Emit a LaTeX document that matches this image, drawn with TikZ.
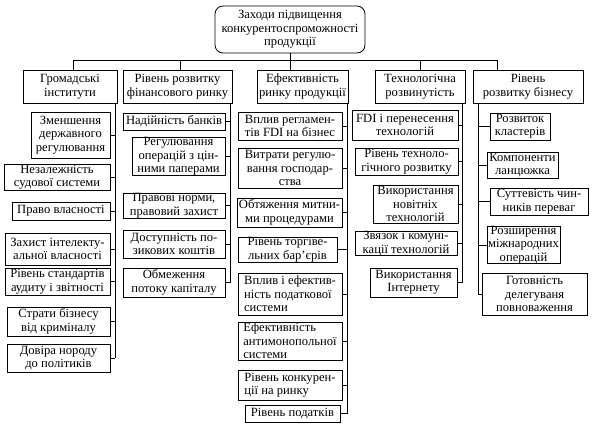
\documentclass[tikz,border=0pt]{standalone}
\usepackage{fontspec}
\setmainfont{Liberation Serif}
\begin{document}
\begin{tikzpicture}[x=1pt,y=-1pt,
  box/.style={draw=black,line width=0.8pt,inner sep=0pt,align=center,font=\fontsize{12.6}{13.4}\selectfont},
  conn/.style={draw=black,line width=0.8pt}]
\useasboundingbox (0,0) rectangle (594,431);
\newcommand\bx[7][]{\node[box,#1,minimum width={(#5-#3)*1pt},minimum height={(#6-#4)*1pt}] (#2) at ({(#3+#5)/2},{(#4+#6)/2}) {#7};}
% top
\bx[rounded corners=8pt]{top}{215}{6}{365}{53}{Заходи підвищення\\конкурентоспроможності\\продукції}
% categories
\bx{c1}{23}{70}{117}{103}{Громадські\\інститути}
\bx{c2}{123}{70}{232}{103}{Рівень розвитку\\фінансового ринку}
\bx{c3}{257}{70}{348}{103}{Ефективність\\ринку продукції}
\bx{c4}{375}{70}{465}{103}{Технологічна\\розвинутість}
\bx{c5}{473}{70}{583}{103}{Рівень\\розвитку бізнесу}
% column 1
\bx{a1}{31}{112}{110}{158}{Зменшення\\державного\\регулювання}
\bx{a2}{4}{164}{110}{190}{Незалежність\\судової системи}
\bx{a3}{12}{202}{110}{220}{Право власності}
\bx{a4}{5}{233}{110}{265}{Захист інтелекту-\\альної власності}
\bx{a5}{5}{268}{110}{295}{Рівень стандартів\\аудиту і звітності}
\bx{a6}{7}{307}{110}{336}{Страти бізнесу\\від криміналу}
\bx{a7}{7}{344}{110}{372}{Довіра нороду\\до політиків}
% column 2
\bx{b1}{123}{113}{225}{130}{Надійність банків}
\bx{b2}{132}{138}{225}{175}{Регулювання\\операцій з цін-\\ними паперами}
\bx{b3}{123}{193}{225}{218}{Правові норми,\\правовий захист}
\bx{b4}{123}{230}{225}{258}{Доступність по-\\зикових коштів}
\bx{b5}{123}{268}{225}{297}{Обмеження\\потоку капіталу}
% column 3
\bx{e1}{238}{112}{342}{140}{Вплив регламен-\\тів FDI на бізнес}
\bx{e2}{238}{148}{342}{188}{Витрати регулю-\\вання господар-\\ства}
\bx{e3}{237}{198}{342}{227}{Обтяження митни-\\ми процедурами}
\bx{e4}{238}{237}{337}{262}{Рівень торгіве-\\льних бар'єрів}
\bx[align=left]{e5}{238}{273}{342}{315}{Вплив і ефектив-\\ність податкової\\системи}
\bx[align=left]{e6}{238}{322}{342}{360}{Ефективність\\антимонопольної\\системи}
\bx[align=left]{e7}{238}{370}{342}{400}{Рівень конкурен-\\ції на ринку}
\bx{e8}{245}{405}{340}{422}{Рівень податків}
% column 4
\bx{t1}{352}{110}{458}{140}{FDI і перенесення\\технологій}
\bx{t2}{355}{148}{458}{175}{Рівень техноло-\\гічного розвитку}
\bx{t3}{373}{185}{458}{223}{Використання\\новітніх\\технологій}
\bx{t4}{355}{232}{457}{255}{Звязок і комуні-\\кації технологій}
\bx{t5}{370}{268}{457}{297}{Використання\\Інтернету}
% column 5
\bx{r1}{490}{113}{550}{140}{Розвиток\\кластерів}
\bx{r2}{487}{152}{558}{178}{Компоненти\\ланцюжка}
\bx{r3}{490}{188}{588}{215}{Суттевість чин-\\ників переваг}
\bx{r4}{487}{227}{560}{263}{Розширення\\міжнародних\\операцій}
\bx{r5}{482}{273}{587}{315}{Готовність\\делегуваня\\повноваження}
% bus
\coordinate (d1) at (73,60);
\coordinate (d2) at (180,60);
\coordinate (d4) at (420,60);
\coordinate (d5) at (497,60);
\draw[conn] (d1) -- (d5);
\draw[conn] (top.south) -- (top.south |- c3.north);
\draw[conn] (d1) -- (d1 |- c1.north);
\draw[conn] (d2) -- (d2 |- c2.north);
\draw[conn] (d4) -- (d4 |- c4.north);
\draw[conn] (d5) -- (d5 |- c5.north);
% spines
\coordinate (s1) at (115,0);
\coordinate (s2) at (230,0);
\coordinate (s3) at (347,0);
\coordinate (s4) at (462,0);
\coordinate (s5) at (478,0);
\draw[conn] (c1.south -| s1) -- (a7.east -| s1);
\draw[conn] (c2.south -| s2) -- (b5.east -| s2);
\draw[conn] (c3.south -| s3) -- (e8.east -| s3);
\draw[conn] (c4.south -| s4) -- (t5.east -| s4);
\draw[conn] (c5.south -| s5) -- (r5.west -| s5);
\foreach \n in {a1,a2,a3,a4,a5,a6,a7} \draw[conn] (\n.east) -- (\n.east -| s1);
\foreach \n in {b1,b2,b3,b4,b5} \draw[conn] (\n.east) -- (\n.east -| s2);
\foreach \n in {e1,e2,e3,e4,e5,e6,e7,e8} \draw[conn] (\n.east) -- (\n.east -| s3);
\foreach \n in {t1,t2,t3,t4,t5} \draw[conn] (\n.east) -- (\n.east -| s4);
\foreach \n in {r1,r2,r3,r4,r5} \draw[conn] (\n.west) -- (\n.west -| s5);
\end{tikzpicture}
\end{document}
